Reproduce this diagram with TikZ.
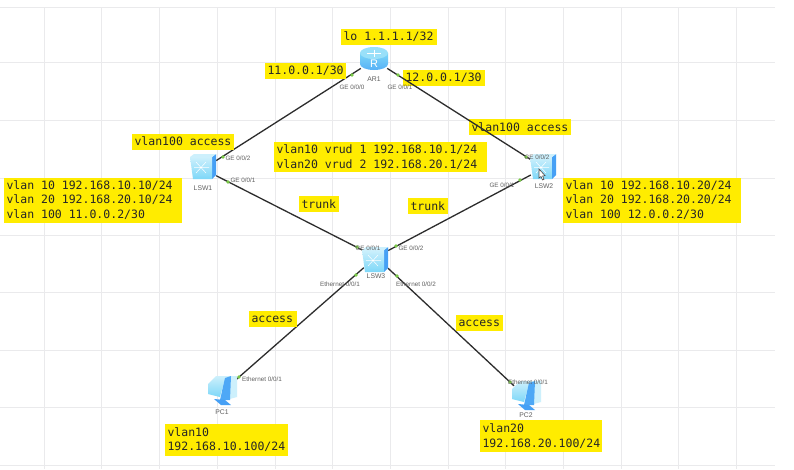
\documentclass[tikz,border=0pt]{standalone}
\usepackage{fontspec}
\setmainfont{Liberation Sans}
\newfontfamily\labelmono{DejaVu Sans Mono}
\definecolor{gridc}{RGB}{234,234,236}
\definecolor{ybg}{RGB}{255,236,0}
\definecolor{linkc}{RGB}{45,45,45}
\definecolor{dotc}{RGB}{120,200,70}
\definecolor{portc}{RGB}{95,95,95}
\definecolor{iconl}{RGB}{205,240,252}
\definecolor{iconm}{RGB}{125,215,248}
\definecolor{icond}{RGB}{70,160,245}
\tikzset{
  ybox/.style={fill=ybg,inner xsep=2.5pt,inner ysep=0pt,align=left,text width=#1-5pt,text=black!85,font=\labelmono\fontsize{11.5}{14.6}\selectfont,execute at begin node={\spaceskip=6.92pt\relax}},
  devbox/.style={inner sep=0pt,minimum width=#1,minimum height=22pt},
  linkline/.style={draw=linkc,line width=1.3pt},
  portdot/.style={circle,fill=dotc,inner sep=0pt,minimum size=3.8pt},
  portlbl/.style={text=portc,inner sep=0pt,font=\fontsize{6.3}{7}\selectfont},
  devlbl/.style={text=portc,inner sep=0pt,font=\fontsize{6.8}{8}\selectfont},
}
% switch icon around a centre
\newcommand{\swicon}[1]{%
  \begin{scope}[shift={(#1)}]
    \fill[icond] (9,-10) -- (13,-13) -- (13,8) -- (9,12) -- cycle;
    \fill[iconl] (-13,-10) -- (-9,-13) -- (13,-13) -- (9,-10) -- cycle;
    \shade[top color=iconl,bottom color=iconm] (-13,-10) -- (9,-10) -- (9,12) -- (-10,12) -- cycle;
    \draw[white,line width=.5pt] (-7,-5) -- (3,6) (3,-5) -- (-7,6) (-9,.5) -- (6,.5);
  \end{scope}}
% pc icon around a centre
\newcommand{\pcicon}[1]{%
  \begin{scope}[shift={(#1)}]
    \fill[iconl] (-6,-15) -- (15,-15) -- (15,6) -- (4,9) -- cycle;
    \shade[top color=iconl,bottom color=iconm] (-14,-7) -- (-6,-15) -- (3,-13) -- (-2,6) -- (-14,3) -- cycle;
    \fill[icond!85!iconm] (3,-13) -- (9,-15) -- (8,9) -- (-2,9) -- cycle;
    \fill[icond] (-8,8) -- (3,9) -- (9,14) -- (-1,14) -- cycle;
  \end{scope}}
\begin{document}
\begin{tikzpicture}[x=1pt,y=-1pt]
\useasboundingbox (0,0) rectangle (794,469);
\fill[white] (0,0) rectangle (794,469);
% grid
\foreach \gx in {44,101,159,217,275,332,390,448,505,563,621,678,736}
  \draw[gridc,line width=.8pt] (\gx,7) -- (\gx,469);
\foreach \gy in {7,62,120,178,235,292,350,407,465}
  \draw[gridc,line width=.8pt] (0,\gy) -- (775,\gy);
% yellow labels that the links run across
\node[ybox=82pt,minimum height=16pt] (t3) at (444,78) {12.0.0.1/30};
\node[ybox=102pt,minimum height=16pt] (t5) at (520,127) {vlan100 access};
% device nodes
\node[devbox=26pt] (ar) at (374,60) {};
\node[devbox=26pt] (lsw1) at (203,169) {};
\node[devbox=26pt] (lsw2) at (544,168) {};
\node[devbox=24pt] (lsw3) at (376,257) {};
\node[devbox=28pt] (pc1) at (222,392) {};
\node[devbox=28pt] (pc2) at (526,397) {};
% links
\draw[linkline] (ar) -- (lsw1);
\draw[linkline] (ar) -- (lsw2);
\draw[linkline] (lsw1) -- (lsw3);
\draw[linkline] (lsw2) -- (lsw3);
\draw[linkline] (lsw3) -- (pc1);
\draw[linkline] (lsw3) -- (pc2);
% icons
\shade[top color=iconm,bottom color=icond!70!iconm] (360,53) -- (360,64) arc[start angle=180,end angle=0,x radius=14,y radius=6] -- (388,53) -- cycle;
\fill[iconm!65!iconl] (374,53) ellipse[x radius=14,y radius=6];
\draw[white,line width=.5pt] (367,53) -- (381,53) (374,49.5) -- (374,56.5);
\node[text=white,inner sep=0pt,font=\fontsize{11}{11}\selectfont] (arR) at (374,63.5) {R};
\swicon{203,167}
\swicon{543,167}
\swicon{375,260}
\pcicon{222,391}
\pcicon{526,396}
% mouse pointer
\draw[fill=white,draw=black!70,line width=.6pt] (539,169) -- (539,178) -- (541,176.5) -- (542.5,180) -- (544,179.3) -- (542.6,176) -- (545,175.6) -- cycle;
% port dots
\foreach \pname/\pp in {d1/{352,75},d2/{398,75},d3/{223,157},d4/{228,182},d5/{526,157},d6/{520,180},d7/{357,247},d8/{396,246},d9/{356,275},d10/{397,276},d11/{239,377},d12/{510,382}}
  \node[portdot] (\pname) at (\pp) {};
% port labels
\node[portlbl] (p1) at (352,87) {GE 0/0/0};
\node[portlbl] (p2) at (400,87) {GE 0/0/1};
\node[portlbl] (p3) at (238,158) {GE 0/0/2};
\node[portlbl] (p4) at (243,180) {GE 0/0/1};
\node[portlbl] (p5) at (537,157) {GE 0/0/2};
\node[portlbl] (p6) at (502,185) {GE 0/0/1};
\node[portlbl] (p7) at (368,248) {GE 0/0/1};
\node[portlbl] (p8) at (411,248) {GE 0/0/2};
\node[portlbl] (p9) at (340,284) {Ethernet 0/0/1};
\node[portlbl] (p10) at (416,284) {Ethernet 0/0/2};
\node[portlbl] (p11) at (262,379) {Ethernet 0/0/1};
\node[portlbl] (p12) at (528,382) {Ethernet 0/0/1};
% device labels
\node[devlbl] (l1) at (374,79) {AR1};
\node[devlbl] (l2) at (203,188) {LSW1};
\node[devlbl] (l3) at (544,186) {LSW2};
\node[devlbl] (l4) at (376,276) {LSW3};
\node[devlbl] (l5) at (222,412) {PC1};
\node[devlbl] (l6) at (526,415) {PC2};
% yellow labels
\node[ybox=96pt,minimum height=16pt] (t1) at (389,37) {lo 1.1.1.1/32};
\node[ybox=81pt,minimum height=16pt] (t2) at (305.5,71) {11.0.0.1/30};
\node[ybox=102pt,minimum height=16pt] (t4) at (183,141.5) {vlan100 access};
\node[ybox=213pt,minimum height=30pt] (t6) at (380.5,157) {vlan10 vrud 1 192.168.10.1/24\\vlan20 vrud 2 192.168.20.1/24};
\node[ybox=178pt,minimum height=45pt] (t7) at (93,200) {vlan 10 192.168.10.10/24\\vlan 20 192.168.20.10/24\\vlan 100 11.0.0.2/30};
\node[ybox=178pt,minimum height=45pt] (t8) at (652,200) {vlan 10 192.168.10.20/24\\vlan 20 192.168.20.20/24\\vlan 100 12.0.0.2/30};
\node[ybox=40pt,minimum height=16pt] (t9) at (319,204) {trunk};
\node[ybox=40pt,minimum height=16pt] (t10) at (428,206) {trunk};
\node[ybox=48pt,minimum height=16pt] (t11) at (273,319) {access};
\node[ybox=47pt,minimum height=16pt] (t12) at (479.5,323) {access};
\node[ybox=123pt,minimum height=32pt] (t13) at (226.5,439.5) {vlan10\\192.168.10.100/24};
\node[ybox=122pt,minimum height=32pt] (t14) at (541,436) {vlan20\\192.168.20.100/24};
\end{tikzpicture}
\end{document}
